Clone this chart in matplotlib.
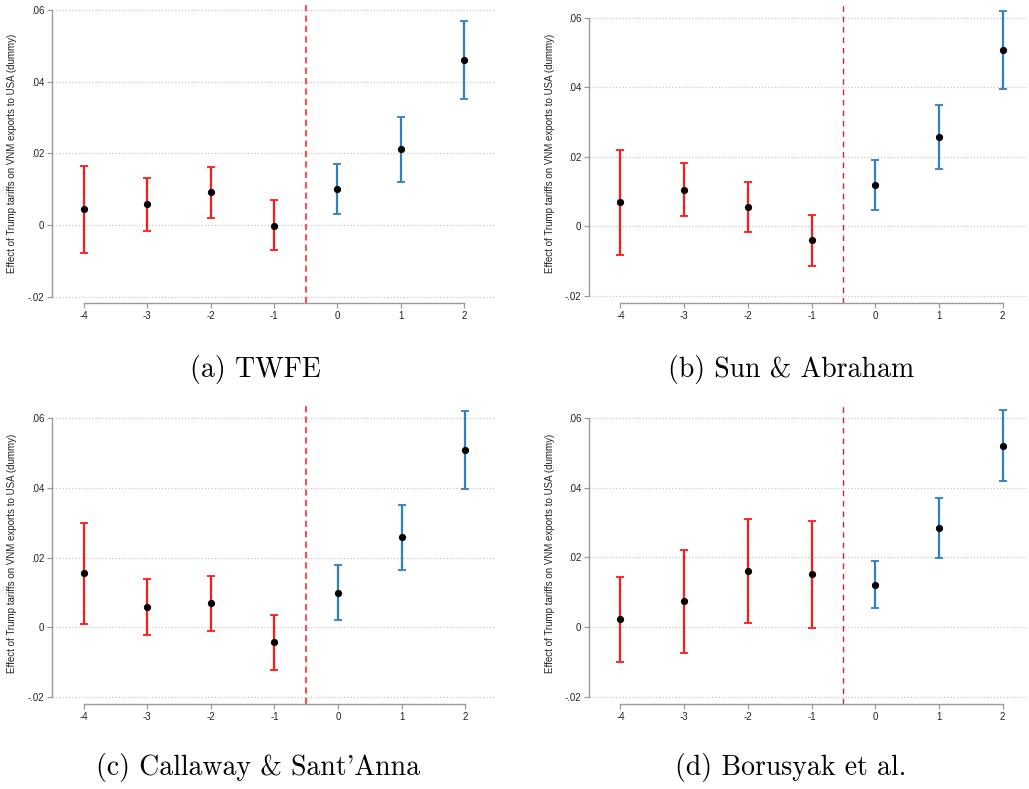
import matplotlib
matplotlib.use("Agg")
from matplotlib import pyplot as plt

# event time relative to the tariff
event_time = [-4, -3, -2, -1, 0, 1, 2]
yticks = [-0.02, 0, 0.02, 0.04, 0.06]
ytick_labels = ['-.02', '0', '.02', '.04', '.06']

# (a) TWFE
twfe_coef = [0.0044, 0.0058, 0.0091, -0.0002, 0.0101, 0.0211, 0.0461]
twfe_lo = [-0.0078, -0.0017, 0.0020, -0.0071, 0.0032, 0.0121, 0.0351]
twfe_hi = [0.0165, 0.0132, 0.0161, 0.0069, 0.0170, 0.0301, 0.0571]

# (b) Sun & Abraham
sa_coef = [0.0070, 0.0105, 0.0056, -0.0039, 0.0120, 0.0258, 0.0508]
sa_lo = [-0.0081, 0.0029, -0.0017, -0.0113, 0.0047, 0.0165, 0.0396]
sa_hi = [0.0219, 0.0181, 0.0128, 0.0033, 0.0191, 0.0350, 0.0620]

# (c) Callaway & Sant'Anna
cs_coef = [0.0155, 0.0058, 0.0069, -0.0042, 0.0100, 0.0259, 0.0509]
cs_lo = [0.0011, -0.0023, -0.0011, -0.0121, 0.0022, 0.0166, 0.0397]
cs_hi = [0.0300, 0.0140, 0.0148, 0.0036, 0.0179, 0.0351, 0.0621]

# (d) Borusyak et al.
bjs_coef = [0.0023, 0.0074, 0.0161, 0.0151, 0.0122, 0.0284, 0.0520]
bjs_lo = [-0.0100, -0.0074, 0.0011, -0.0003, 0.0056, 0.0199, 0.0420]
bjs_hi = [0.0145, 0.0222, 0.0311, 0.0304, 0.0189, 0.0369, 0.0621]

captions = ['(a) TWFE', '(b) Sun & Abraham',
            "(c) Callaway & Sant'Anna", '(d) Borusyak et al.']

W, H = 1029, 789
RED = '#ff1a1a'
BLUE = '#2f7fc1'
GRID = '#c8c8c8'
SPINE = '#9a9a9a'
YLABEL = 'Effect of Trump tariffs on VNM exports to USA (dummy)'

# pixel boxes (left, top, right, bottom), limits, label x, caption centre, cutoff style
panels = [
    dict(coef=twfe_coef, lo=twfe_lo, hi=twfe_hi, box=(52, 3, 495, 303),
         xlim=(-4.505, 2.49), ylim=(-0.0218, 0.0620), labx=17, cap=(255, 369),
         vcol='#ff5050', vlw=1.5, vdash=(3, 2)),
    dict(coef=sa_coef, lo=sa_lo, hi=sa_hi, box=(589, 3, 1027, 303),
         xlim=(-4.494, 2.384), ylim=(-0.0220, 0.0642), labx=555, cap=(791, 369),
         vcol='#c8282d', vlw=1.0, vdash=(4, 3.5)),
    dict(coef=cs_coef, lo=cs_lo, hi=cs_hi, box=(52, 403, 495, 704),
         xlim=(-4.50, 2.47), ylim=(-0.0220, 0.0644), labx=17, cap=(258, 768),
         vcol='#ff5050', vlw=1.5, vdash=(3, 2)),
    dict(coef=bjs_coef, lo=bjs_lo, hi=bjs_hi, box=(589, 403, 1027, 704),
         xlim=(-4.494, 2.384), ylim=(-0.0220, 0.0642), labx=555, cap=(791, 768),
         vcol='#c8282d', vlw=1.0, vdash=(4, 3.5)),
]

fig = plt.figure(figsize=(W / 100, H / 100), dpi=100)

for p, caption in zip(panels, captions):
    l, t, r, b = p['box']
    ax = fig.add_axes([l / W, 1 - b / H, (r - l) / W, (b - t) / H])
    coef, lo, hi = p['coef'], p['lo'], p['hi']

    for x, c, a, z in zip(event_time, coef, lo, hi):
        col = RED if x < 0 else BLUE
        ax.errorbar([x], [c], yerr=[[c - a], [z - c]], fmt='none',
                    ecolor=col, elinewidth=1.6, capsize=3, capthick=1.3,
                    zorder=3)
    ax.plot(event_time, coef, 'o', color='black', markersize=4.2, zorder=4)

    ax.axvline(-0.5, color=p['vcol'], lw=p['vlw'],
               linestyle=(0, p['vdash']), zorder=2)

    ax.set_xlim(*p['xlim'])
    ax.set_ylim(*p['ylim'])
    ax.set_xticks(event_time)
    ax.set_xticklabels([str(v) for v in event_time])
    ax.set_yticks(yticks)
    ax.set_yticklabels(ytick_labels)
    ax.yaxis.grid(True, linestyle=':', color=GRID, lw=0.9)
    ax.set_axisbelow(True)

    for s in ['top', 'right']:
        ax.spines[s].set_visible(False)
    ax.spines['left'].set_bounds(yticks[0], yticks[-1])
    ax.spines['bottom'].set_bounds(event_time[0], event_time[-1])
    for s in ['left', 'bottom']:
        ax.spines[s].set_color(SPINE)
        ax.spines[s].set_linewidth(1.0)
    ax.tick_params(colors=SPINE, labelcolor='#222222', length=3.5,
                   width=0.9, labelsize=7, pad=2)
    for lab in ax.get_xticklabels() + ax.get_yticklabels():
        lab.set_fontfamily('Liberation Sans')

    ax.set_ylabel(YLABEL, fontsize=7, fontfamily='Liberation Sans',
                  color='#222222')
    ax.yaxis.set_label_coords((p['labx'] - l) / (r - l), 0.5)

    cx, cy = p['cap']
    fig.text(cx / W, 1 - cy / H, caption, fontfamily='cmr10', fontsize=20,
             ha='center', va='center')

fig.savefig('out.png', dpi=100)
